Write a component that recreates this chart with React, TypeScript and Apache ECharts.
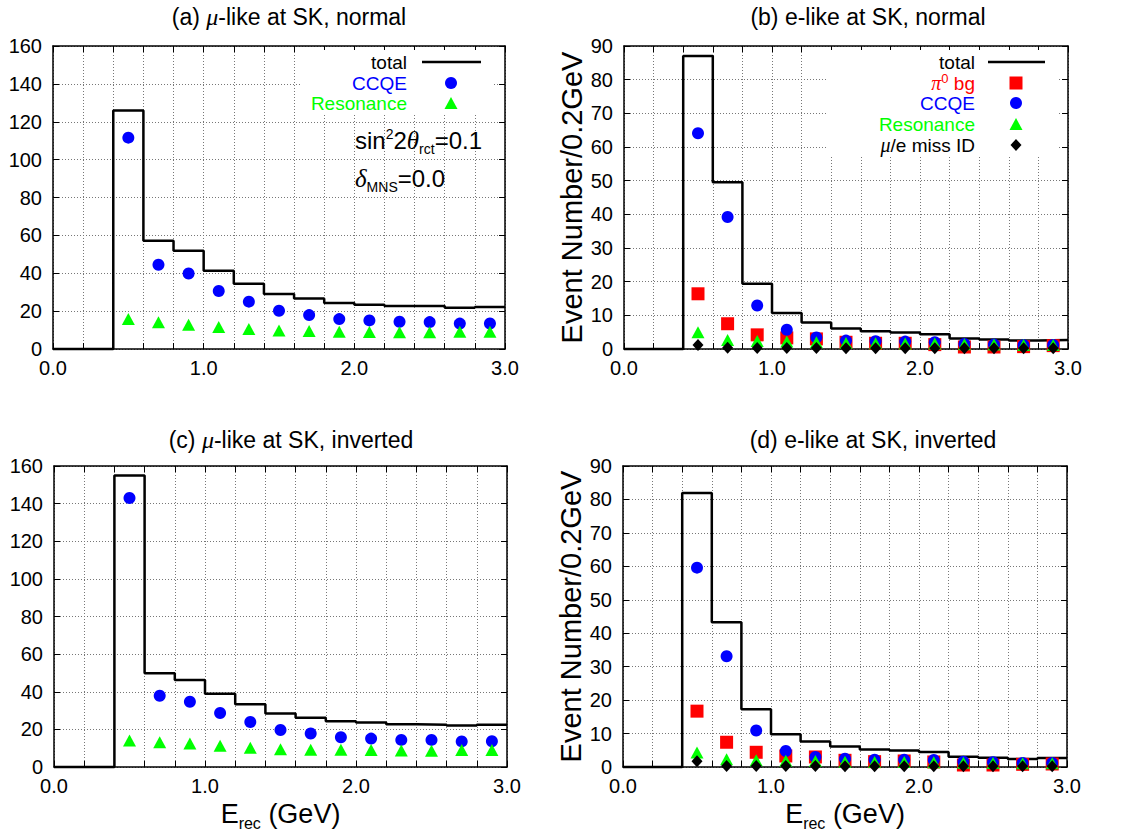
import React, { useEffect, useRef } from "react";
import * as echarts from "echarts";

// Energy bins (GeV): lower edges of the 0.2 GeV bins and centres of the filled bins
const binLow = [0.0, 0.2, 0.4, 0.6, 0.8, 1.0, 1.2, 1.4, 1.6, 1.8, 2.0, 2.2, 2.4, 2.6, 2.8];
const binCenters = [0.5, 0.7, 0.9, 1.1, 1.3, 1.5, 1.7, 1.9, 2.1, 2.3, 2.5, 2.7, 2.9];

// (a) mu-like, normal hierarchy
const muNormTotal = [0, 0, 126, 57.2, 51.9, 41.3, 34.5, 29.0, 26.7, 24.3, 23.4, 22.7, 22.7, 21.8, 22.2];
const muNormCCQE = [111.6, 44.5, 39.9, 30.6, 25.0, 20.2, 17.9, 15.8, 15.1, 14.4, 14.2, 13.4, 13.5];
const muNormRes = [15.8, 14.1, 12.8, 11.6, 10.5, 9.8, 9.5, 9.1, 9.0, 8.8, 8.8, 9.1, 9.1];

// (b) e-like, normal hierarchy
const eNormTotal = [0, 0, 87, 49.5, 19.4, 10.7, 7.9, 6.1, 5.3, 4.9, 4.4, 3.1, 2.8, 2.5, 2.7];
const eNormPi0 = [16.4, 7.5, 4.2, 3.3, 3.0, 2.0, 1.7, 1.7, 1.3, 0.6, 0.6, 0.7, 1.0];
const eNormCCQE = [64.1, 39.2, 12.9, 5.7, 3.4, 2.5, 2.3, 2.2, 2.0, 1.5, 1.3, 1.1, 1.2];
const eNormRes = [5.0, 2.7, 2.4, 2.2, 2.0, 1.8, 1.7, 1.6, 1.6, 1.4, 1.3, 1.2, 1.2];
const eNormMiss = [1.2, 0.4, 0.3, 0.3, 0.3, 0.2, 0.2, 0.2, 0.2, 0.2, 0.2, 0.2, 0.2];

// (c) mu-like, inverted hierarchy
const muInvTotal = [0, 0, 155, 49.8, 46.3, 38.9, 33.4, 28.5, 26.2, 24.3, 23.6, 22.7, 22.5, 22.0, 22.4];
const muInvCCQE = [143, 37.9, 34.7, 28.7, 23.9, 19.7, 17.8, 15.8, 15.1, 14.4, 14.4, 13.6, 13.7];
const muInvRes = [14.1, 13.2, 12.5, 11.3, 10.2, 9.5, 9.2, 9.2, 9.0, 8.8, 8.6, 9.0, 9.0];

// (d) e-like, inverted hierarchy
const eInvTotal = [0, 0, 81.9, 43.3, 17.3, 9.8, 7.6, 6.1, 5.2, 4.9, 4.5, 3.1, 2.8, 2.4, 2.7];
const eInvPi0 = [16.7, 7.4, 4.4, 3.3, 3.0, 2.0, 1.6, 1.8, 1.5, 0.6, 0.6, 0.8, 0.9];
const eInvCCQE = [59.6, 33.1, 10.9, 4.8, 3.0, 2.5, 2.2, 2.2, 2.1, 1.6, 1.4, 1.2, 1.2];
const eInvRes = [4.3, 2.3, 2.0, 1.9, 1.8, 1.6, 1.5, 1.5, 1.4, 1.3, 1.2, 1.1, 1.1];
const eInvMiss = [1.7, 0.3, 0.3, 0.3, 0.3, 0.2, 0.2, 0.2, 0.2, 0.2, 0.2, 0.2, 0.2];

// Axis ranges
const xMax = 3.0;
const xStep = 0.2;
const yMaxMu = 160;
const yStepMu = 20;
const yMaxE = 90;
const yStepE = 10;

const panelTitles = [
  "(a) {g|μ}-like at SK, normal",
  "(b) e-like at SK, normal",
  "(c) {g|μ}-like at SK, inverted",
  "(d) e-like at SK, inverted",
];
const yAxisTitle = "Event Number/0.2GeV";
const xAxisTitle = "{m|E}{s|rec}{m| (GeV)}";

const SANS = "'Liberation Sans', Arial, Helvetica, sans-serif";
const SERIF = "'Liberation Serif', 'Times New Roman', serif";
const RED = "#ff0000";
const BLUE = "#0000ff";
const GREEN = "#00ff00";
const BLACK = "#000000";

const histogram = (tot: number[]) =>
  binLow.map((x, i) => [x, tot[i]]).concat([[xMax, tot[tot.length - 1]]]);
const points = (vals: number[]) => binCenters.map((x, i) => [x, vals[i]]);

const isWhole = (v: number) => Math.abs(v - Math.round(v)) < 1e-6;

function buildOption() {
  const grids = [
    { left: 53, top: 46, width: 452, height: 303 },
    { left: 624, top: 46, width: 444, height: 303 },
    { left: 54, top: 466, width: 453, height: 303 },
    { left: 623, top: 466, width: 444, height: 303 },
  ];
  const yMaxes = [yMaxMu, yMaxE, yMaxMu, yMaxE];
  const ySteps = [yStepMu, yStepE, yStepMu, yStepE];

  const frameLine = { show: true, onZero: false, lineStyle: { color: BLACK, width: 1.5 } };
  const tick = { show: true, inside: true, length: 6, lineStyle: { color: BLACK, width: 1 } };
  const gridLine = { show: true, lineStyle: { color: "#777", width: 1, type: [1, 2] as any } };
  const tickFont = { color: BLACK, fontSize: 20, fontFamily: SANS };

  const xAxis: any[] = [];
  const yAxis: any[] = [];
  grids.forEach((_, gi) => {
    const bottomRow = gi >= 2;
    xAxis.push({
      type: "value",
      gridIndex: gi,
      position: "bottom",
      min: 0,
      max: xMax,
      interval: xStep,
      axisLine: frameLine,
      axisTick: tick,
      splitLine: gridLine,
      axisLabel: {
        ...tickFont,
        margin: 9,
        showMinLabel: true,
        showMaxLabel: true,
        formatter: (v: number) => (isWhole(v) ? v.toFixed(1) : ""),
      },
      name: bottomRow ? xAxisTitle : "",
      nameLocation: "middle",
      nameGap: 30,
      nameTextStyle: {
        color: BLACK,
        fontFamily: SANS,
        fontSize: 27,
        rich: {
          m: { fontSize: 27, fontFamily: SANS, color: BLACK, lineHeight: 34, verticalAlign: "middle" },
          s: { fontSize: 16, fontFamily: SANS, color: BLACK, lineHeight: 16, verticalAlign: "bottom" },
        },
      },
    });
    xAxis.push({
      type: "value",
      gridIndex: gi,
      position: "top",
      min: 0,
      max: xMax,
      interval: xStep,
      axisLine: frameLine,
      axisTick: tick,
      splitLine: { show: false },
      axisLabel: { show: false },
    });
    const eLike = gi % 2 === 1;
    yAxis.push({
      type: "value",
      gridIndex: gi,
      position: "left",
      min: 0,
      max: yMaxes[gi],
      interval: ySteps[gi],
      axisLine: frameLine,
      axisTick: tick,
      splitLine: gridLine,
      axisLabel: { ...tickFont, margin: 11 },
      name: eLike ? yAxisTitle : "",
      nameLocation: "middle",
      nameGap: 35,
      nameRotate: 90,
      nameTextStyle: { color: BLACK, fontFamily: SANS, fontSize: 29 },
    });
    yAxis.push({
      type: "value",
      gridIndex: gi,
      position: "right",
      min: 0,
      max: yMaxes[gi],
      interval: ySteps[gi],
      axisLine: frameLine,
      axisTick: tick,
      splitLine: { show: false },
      axisLabel: { show: false },
    });
  });

  const total = (gi: number, tot: number[]) => ({
    type: "line",
    xAxisIndex: gi * 2,
    yAxisIndex: gi * 2,
    data: histogram(tot),
    step: "end",
    symbol: "none",
    clip: false,
    lineStyle: { color: BLACK, width: 2.5 },
    itemStyle: { color: BLACK },
    z: 3,
  });
  const marks = (gi: number, vals: number[], symbol: string, color: string, size: any) => ({
    type: "scatter",
    xAxisIndex: gi * 2,
    yAxisIndex: gi * 2,
    data: points(vals),
    symbol,
    symbolSize: size,
    itemStyle: { color, opacity: 1 },
    z: 3,
  });

  const series: any[] = [
    total(0, muNormTotal),
    marks(0, muNormCCQE, "circle", BLUE, 12),
    marks(0, muNormRes, "triangle", GREEN, [13, 12]),

    total(1, eNormTotal),
    marks(1, eNormPi0, "rect", RED, 13),
    marks(1, eNormCCQE, "circle", BLUE, 12),
    marks(1, eNormRes, "triangle", GREEN, [13, 12]),
    marks(1, eNormMiss, "diamond", BLACK, [11, 12]),

    total(2, muInvTotal),
    marks(2, muInvCCQE, "circle", BLUE, 12),
    marks(2, muInvRes, "triangle", GREEN, [13, 12]),

    total(3, eInvTotal),
    marks(3, eInvPi0, "rect", RED, 13),
    marks(3, eInvCCQE, "circle", BLUE, 12),
    marks(3, eInvRes, "triangle", GREEN, [13, 12]),
    marks(3, eInvMiss, "diamond", BLACK, [11, 12]),
  ];

  // Panel titles
  const titleCenters = [
    [289, 17],
    [868, 17],
    [291, 440],
    [873, 440],
  ];
  const graphic: any[] = panelTitles.map((t, i) => ({
    type: "text",
    x: titleCenters[i][0],
    y: titleCenters[i][1],
    z: 10,
    style: {
      text: t,
      fill: BLACK,
      fontSize: 23,
      fontFamily: SANS,
      align: "center",
      verticalAlign: "middle",
      rich: { g: { fontSize: 24, fontFamily: SERIF, fontStyle: "italic", fill: BLACK } },
    },
  }));

  // White key backgrounds hiding the dotted grid
  graphic.push(
    { type: "rect", z: 1, shape: { x: 300, y: 50, width: 193, height: 63 }, style: { fill: "#fff" } },
    { type: "rect", z: 1, shape: { x: 826, y: 50, width: 231, height: 105 }, style: { fill: "#fff" } }
  );

  const keyText = (x: number, y: number, text: string, fill: string, rich?: any) => ({
    type: "text",
    x,
    y,
    z: 10,
    style: {
      text,
      fill,
      fontSize: 19,
      fontFamily: SANS,
      align: "right",
      verticalAlign: "middle",
      lineHeight: 22,
      rich,
    },
  });
  const circle = (cx: number, cy: number, fill: string) => ({
    type: "circle", z: 10, shape: { cx, cy, r: 6 }, style: { fill },
  });
  const triangle = (cx: number, cy: number, fill: string) => ({
    type: "polygon", z: 10,
    shape: { points: [[cx, cy - 6], [cx + 6.5, cy + 6], [cx - 6.5, cy + 6]] },
    style: { fill },
  });
  const square = (cx: number, cy: number, fill: string) => ({
    type: "rect", z: 10, shape: { x: cx - 6.5, y: cy - 6.5, width: 13, height: 13 }, style: { fill },
  });
  const diamond = (cx: number, cy: number, fill: string) => ({
    type: "polygon", z: 10,
    shape: { points: [[cx, cy - 6], [cx + 5.5, cy], [cx, cy + 6], [cx - 5.5, cy]] },
    style: { fill },
  });
  const keyLine = (x1: number, x2: number, y: number) => ({
    type: "line", z: 10, shape: { x1, y1: y, x2, y2: y }, style: { stroke: BLACK, lineWidth: 2.5 },
  });

  const greek = { fontFamily: SERIF, fontStyle: "italic", fontSize: 20 };

  // Key of panel (a)
  graphic.push(
    keyText(407, 62, "total", BLACK),
    keyLine(422, 481, 62),
    keyText(407, 83, "CCQE", BLUE),
    circle(451, 83, BLUE),
    keyText(407, 103, "Resonance", GREEN),
    triangle(451, 103, GREEN)
  );

  // Key of panel (b)
  graphic.push(
    keyText(975, 62, "total", BLACK),
    keyLine(988, 1045, 62),
    keyText(975, 83, "{g|π}{sup|0} bg", RED, {
      g: { ...greek, fill: RED, lineHeight: 22, verticalAlign: "middle" },
      sup: { fontSize: 13, fontFamily: SANS, fill: RED, lineHeight: 13, verticalAlign: "top" },
    }),
    square(1016, 83, RED),
    keyText(975, 103, "CCQE", BLUE),
    circle(1016, 103, BLUE),
    keyText(975, 124, "Resonance", GREEN),
    triangle(1016, 124, GREEN),
    keyText(975, 145, "{g|μ}/e miss ID", BLACK, {
      g: { ...greek, fill: BLACK, lineHeight: 22, verticalAlign: "middle" },
    }),
    diamond(1016, 145, BLACK)
  );

  // Oscillation parameters in panel (a)
  const paramRich = {
    m: { fontSize: 24, fontFamily: SANS, fill: BLACK, lineHeight: 32, verticalAlign: "middle" },
    g: { fontSize: 25, fontFamily: SERIF, fontStyle: "italic", fill: BLACK, lineHeight: 32, verticalAlign: "middle" },
    sup: { fontSize: 14, fontFamily: SANS, fill: BLACK, lineHeight: 14, verticalAlign: "top", padding: [3, 0, 0, 0] },
    sub: { fontSize: 14, fontFamily: SANS, fill: BLACK, lineHeight: 14, verticalAlign: "bottom" },
  };
  graphic.push(
    {
      type: "text", x: 355, y: 140, z: 10,
      style: {
        text: "{m|sin}{sup|2}{m|2}{g|θ}{sub|rct}{m|=0.1}",
        rich: paramRich, align: "left", verticalAlign: "middle", fontSize: 24, fontFamily: SANS, fill: BLACK,
      },
    },
    {
      type: "text", x: 355, y: 178, z: 10,
      style: {
        text: "{g|δ}{sub|MNS}{m|=0.0}",
        rich: paramRich, align: "left", verticalAlign: "middle", fontSize: 24, fontFamily: SANS, fill: BLACK,
      },
    }
  );

  return {
    animation: false,
    backgroundColor: "#ffffff",
    grid: grids.map((g) => ({ ...g, containLabel: false })),
    xAxis,
    yAxis,
    series,
    graphic,
  };
}

export default function App() {
  const ref = useRef<HTMLDivElement>(null);
  useEffect(() => {
    if (!ref.current) return;
    const chart = echarts.init(ref.current, undefined, { renderer: "svg" });
    chart.setOption(buildOption() as any);
    return () => chart.dispose();
  }, []);
  return (
    <div
      ref={ref}
      style={{ position: "absolute", left: 0, top: 0, width: 1125, height: 832, background: "#fff" }}
    />
  );
}
